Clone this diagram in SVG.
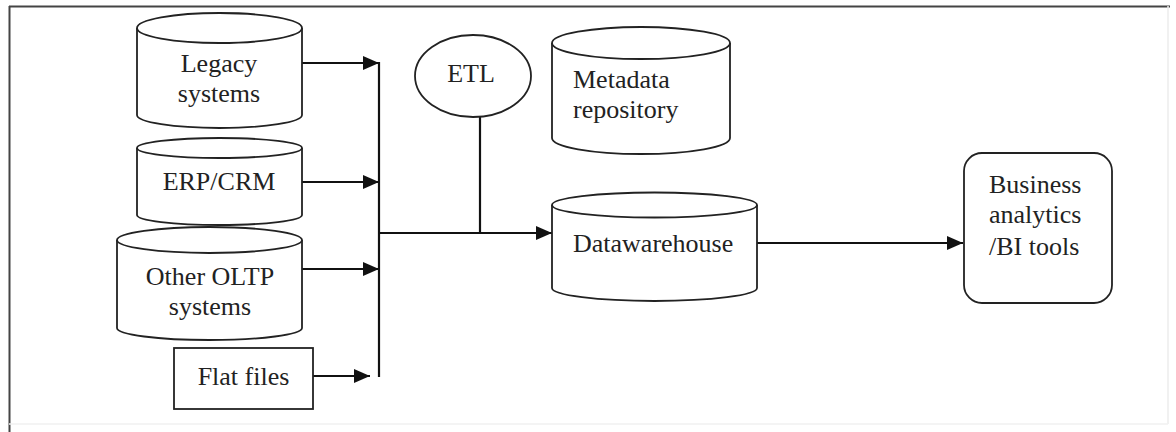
<svg xmlns="http://www.w3.org/2000/svg" width="1176" height="432" viewBox="0 0 1176 432">
<style>
.shape{fill:#fff;stroke:#222;stroke-width:1.8}
.line{fill:none;stroke:#111;stroke-width:2.2}
.t{font-family:"Liberation Serif","Times New Roman",serif;font-size:26px;fill:#222}
.c{text-anchor:middle}
</style>
<defs>
<marker id="ah" markerUnits="userSpaceOnUse" markerWidth="18" markerHeight="16" refX="16" refY="7" orient="auto">
<path d="M0,0 L16,7 L0,14 Z" fill="#111"/>
</marker>
</defs>
<rect width="1176" height="432" fill="#fff"/>
<g id="frame">
<line x1="9.5" y1="6" x2="9.5" y2="432" stroke="#444" stroke-width="2"/>
<line x1="9" y1="6.5" x2="1170" y2="6.5" stroke="#444" stroke-width="2"/>
<line x1="1168" y1="6" x2="1168" y2="424" stroke="#ececec" stroke-width="1.5"/>
<line x1="9" y1="424" x2="1168" y2="424" stroke="#f0f0f0" stroke-width="1.5"/>
</g>
<g id="connectors">
<line class="line" x1="302" y1="63" x2="379" y2="63" marker-end="url(#ah)"/>
<line class="line" x1="302" y1="182" x2="379" y2="182" marker-end="url(#ah)"/>
<line class="line" x1="302" y1="269" x2="379" y2="269" marker-end="url(#ah)"/>
<line class="line" x1="313" y1="376" x2="370" y2="376" marker-end="url(#ah)"/>
<line class="line" x1="379" y1="62" x2="379" y2="377"/>
<line class="line" x1="480" y1="117" x2="480" y2="233"/>
<line class="line" x1="379" y1="233" x2="552" y2="233" marker-end="url(#ah)"/>
<line class="line" x1="757" y1="243" x2="963" y2="243" marker-end="url(#ah)"/>
</g>
<g id="legacy">
<path class="shape" d="M137,28 V115 A82.5,13 0 0 0 302,115 V28"/>
<ellipse class="shape" cx="219.5" cy="28" rx="82.5" ry="15"/>
<text class="t c" x="219" y="72">Legacy</text>
<text class="t c" x="219" y="102">systems</text>
</g>
<g id="erp">
<path class="shape" d="M137,148 V215 A82.5,10 0 0 0 302,215 V148"/>
<ellipse class="shape" cx="219.5" cy="148" rx="82.5" ry="10"/>
<text class="t c" x="219" y="190">ERP/CRM</text>
</g>
<g id="oltp">
<path class="shape" d="M117,240 V328 A92.5,12 0 0 0 302,328 V240"/>
<ellipse class="shape" cx="209.5" cy="240" rx="92.5" ry="13"/>
<text class="t c" x="210" y="285">Other OLTP</text>
<text class="t c" x="210" y="315">systems</text>
</g>
<g id="flatfiles">
<rect class="shape" x="174" y="348" width="139" height="61"/>
<text class="t c" x="243.5" y="385">Flat files</text>
</g>
<g id="etl">
<ellipse class="shape" cx="473" cy="76" rx="58" ry="41"/>
<text class="t c" x="471" y="82">ETL</text>
</g>
<g id="metadata">
<path class="shape" d="M552,43 V138 A89,16 0 0 0 730,138 V43"/>
<ellipse class="shape" cx="641" cy="43" rx="89" ry="16"/>
<text class="t" x="573" y="88">Metadata</text>
<text class="t" x="573" y="118">repository</text>
</g>
<g id="datawarehouse">
<path class="shape" d="M552,205 V288 A102.5,13 0 0 0 757,288 V205"/>
<ellipse class="shape" cx="654.5" cy="205" rx="102.5" ry="12.5"/>
<text class="t" x="573" y="252">Datawarehouse</text>
</g>
<g id="bi">
<rect class="shape" x="964" y="153" width="148" height="150" rx="18"/>
<text class="t" x="989" y="193">Business</text>
<text class="t" x="989" y="223">analytics</text>
<text class="t" x="989" y="255">/BI tools</text>
</g>
</svg>
